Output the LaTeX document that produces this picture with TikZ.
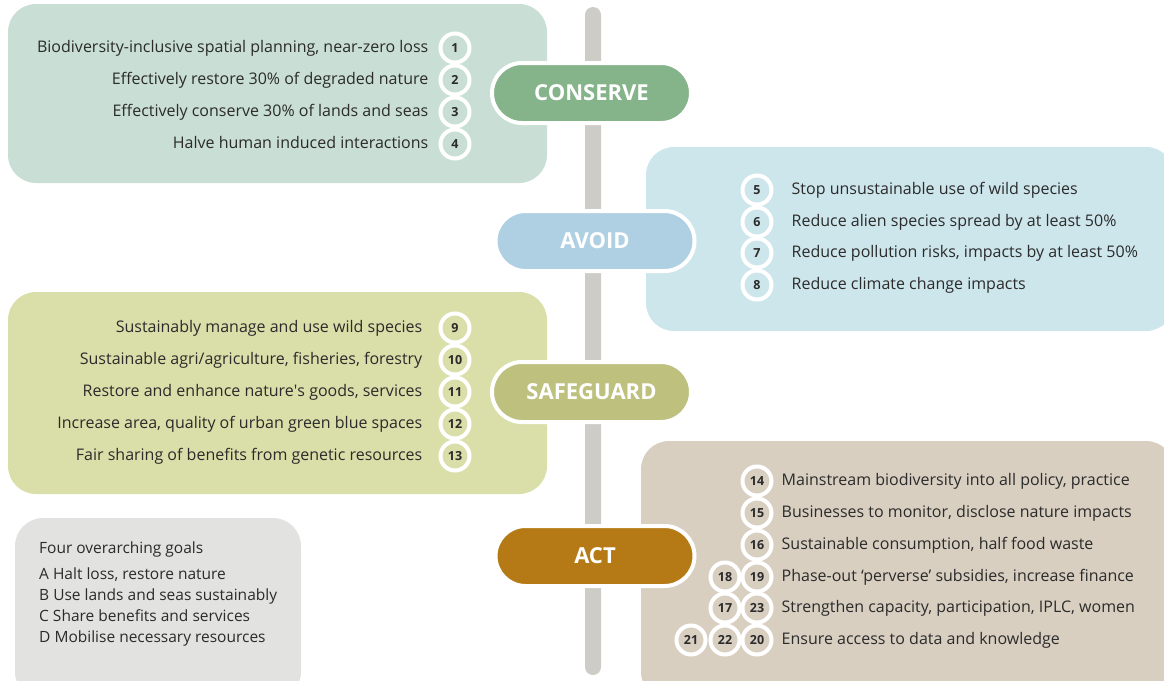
\documentclass[tikz,border=0pt]{standalone}
\usepackage{fontspec}
\setmainfont{Open Sans}
\usepackage{tikz}
\usetikzlibrary{positioning}

\definecolor{conserveBox}{HTML}{C9DED4}
\definecolor{conservePill}{HTML}{85B48B}
\definecolor{avoidBox}{HTML}{CDE6EC}
\definecolor{avoidPill}{HTML}{AFD0E3}
\definecolor{safeBox}{HTML}{DADFA9}
\definecolor{safePill}{HTML}{BEC17D}
\definecolor{actBox}{HTML}{D8CFC1}
\definecolor{actPill}{HTML}{B57A15}
\definecolor{goalsBox}{HTML}{E2E2E1}
\definecolor{spine}{HTML}{CDCCC7}
\definecolor{ink}{HTML}{2B2B2B}

\begin{document}
\begin{tikzpicture}[
            x=1pt, y=-1pt,
            font=\fontsize{16}{18}\selectfont,
            panel/.style={rounded corners=28pt},
            pill/.style={rectangle, rounded corners=30pt, draw=white, line width=4pt,
                minimum width=199pt, minimum height=60pt,
                text=white, font=\fontsize{22}{26}\selectfont\bfseries
            },
            num/.style={circle, draw=white, line width=4pt, 
                minimum size=29pt, inner sep=0pt, text=ink,
                font=\fontsize{12.5}{13}\selectfont\bfseries
            },
            item/.style={inner sep=0pt, text=ink, text height=1.8ex, text depth=.3ex},
            goal/.style={item, anchor=west, font=\fontsize{15.5}{17}\selectfont}
        ]
            \clip (0,0) rectangle (1164,680);

            % Panels
            \fill [panel, conserveBox] (8,4) rectangle (547,183);
            \fill [panel, avoidBox] (646,147) rectangle (1174,331);
            \fill [panel, safeBox] (8,292) rectangle (547,494);
            \fill [panel, actBox] (641,441) rectangle (1174,700);
            \fill [panel, goalsBox] (15,518) rectangle (301,700);

            % Vertical spine
            \fill [spine, rounded corners=8pt] (585,7) rectangle (601,675);

            % Headings on the spine
            \node [pill, fill=conservePill] (conserve) at (591.5,93) {CONSERVE};
            \node [pill, fill=avoidPill] (avoid) at (595,241) {AVOID};
            \node [pill, fill=safePill] (safeguard) at (591.5,392) {SAFEGUARD};
            \node [pill, fill=actPill] (act) at (595,556) {ACT};

            % Conserve targets
            \node [num, fill=conserveBox] (t1) at (455,48) {1};
            \node [num, fill=conserveBox] (t2) at (455,80) {2};
            \node [num, fill=conserveBox] (t3) at (455,112) {3};
            \node [num, fill=conserveBox] (t4) at (455,144) {4};
            \node [item, left=10pt of t1] (l1) {Biodiversity-inclusive spatial planning, near-zero loss};
            \node [item, left=10pt of t2] (l2) {Effectively restore 30\% of degraded nature};
            \node [item, left=10pt of t3] (l3) {Effectively conserve 30\% of lands and seas};
            \node [item, left=10pt of t4] (l4) {Halve human induced interactions};

            % Avoid targets
            \node [num, fill=avoidBox] (t5) at (757,190) {5};
            \node [num, fill=avoidBox] (t6) at (757,222) {6};
            \node [num, fill=avoidBox] (t7) at (757,253) {7};
            \node [num, fill=avoidBox] (t8) at (757,285) {8};
            \node [item, right=18pt of t5] (l5) {Stop unsustainable use of wild species};
            \node [item, right=18pt of t6] (l6) {Reduce alien species spread by at least 50\%};
            \node [item, right=18pt of t7] (l7) {Reduce pollution risks, impacts by at least 50\%};
            \node [item, right=18pt of t8] (l8) {Reduce climate change impacts};

            % Safeguard targets
            \node [num, fill=safeBox] (t9) at (455,328) {9};
            \node [num, fill=safeBox] (t10) at (455,360) {10};
            \node [num, fill=safeBox] (t11) at (455,392) {11};
            \node [num, fill=safeBox] (t12) at (455,424) {12};
            \node [num, fill=safeBox] (t13) at (455,456) {13};
            \node [item, left=16pt of t9] (l9) {Sustainably manage and use wild species};
            \node [item, left=16pt of t10] (l10) {Sustainable agri/agriculture, fisheries, forestry};
            \node [item, left=16pt of t11] (l11) {Restore and enhance nature\textquotesingle s goods, services};
            \node [item, left=16pt of t12] (l12) {Increase area, quality of urban green blue spaces};
            \node [item, left=16pt of t13] (l13) {Fair sharing of benefits from genetic resources};

            % Act targets
            \node [num, fill=actBox] (t14) at (757,481) {14};
            \node [num, fill=actBox] (t15) at (757,513) {15};
            \node [num, fill=actBox] (t16) at (757,545) {16};
            \node [num, fill=actBox] (t19) at (757,577) {19};
            \node [num, fill=actBox] (t18) at (725,577) {18};
            \node [num, fill=actBox] (t23) at (757,608) {23};
            \node [num, fill=actBox] (t17) at (725,608) {17};
            \node [num, fill=actBox] (t20) at (757,640) {20};
            \node [num, fill=actBox] (t22) at (725,640) {22};
            \node [num, fill=actBox] (t21) at (691,640) {21};
            \node [item, right=8pt of t14] (l14) {Mainstream biodiversity into all policy, practice};
            \node [item, right=8pt of t15] (l15) {Businesses to monitor, disclose nature impacts};
            \node [item, right=8pt of t16] (l16) {Sustainable consumption, half food waste};
            \node [item, right=8pt of t19] (l19) {Phase-out ‘perverse’ subsidies, increase finance};
            \node [item, right=8pt of t23] (l23) {Strengthen capacity, participation, IPLC, women};
            \node [item, right=8pt of t20] (l20) {Ensure access to data and knowledge};

            % Goals legend
            \node [goal] (goals) at (39,549) {Four overarching goals};
            \node [goal] (goalA) at (39,575) {A Halt loss, restore nature};
            \node [goal] (goalB) at (39,596) {B Use lands and seas sustainably};
            \node [goal] (goalC) at (39,617) {C Share benefits and services};
            \node [goal] (goalD) at (39,638) {D Mobilise necessary resources};
        \end{tikzpicture}
\end{document}
